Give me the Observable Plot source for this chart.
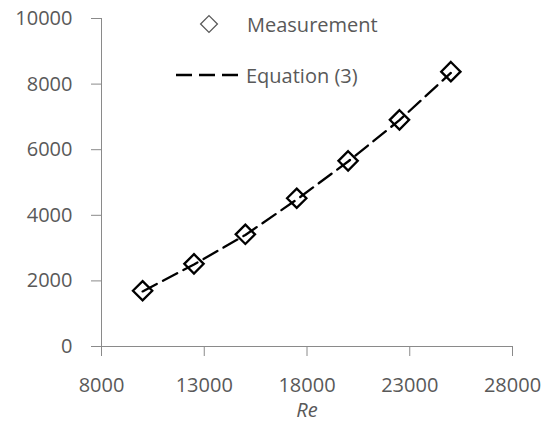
<!DOCTYPE html>
<html>
<head>
<meta charset="utf-8">
<script src="https://cdn.jsdelivr.net/npm/d3@7"></script>
<script src="https://cdn.jsdelivr.net/npm/@observablehq/plot@0.6"></script>
<style>
  body { margin: 0; background: #fff; }
  #chart svg text { fill: #595959; }
</style>
</head>
<body>
<div id="chart"></div>
<script>
// Reynolds number of each run
const re = [10000, 12500, 15000, 17500, 20000, 22500, 25000];
// measured values
const measured = [1700, 2520, 3420, 4520, 5660, 6910, 8380];
// values from Equation (3)
const equation = [1680, 2500, 3400, 4480, 5640, 6900, 8340];
// axis ticks
const xTicks = [8000, 13000, 18000, 23000, 28000];
const yTicks = [0, 2000, 4000, 6000, 8000, 10000];

const measRows = re.map((r, i) => ({re: r, v: measured[i]}));
const eqRows = re.map((r, i) => ({re: r, v: equation[i]}));

const font = "'Open Sans', sans-serif";

const chart = Plot.plot({
  width: 543,
  height: 421,
  marginLeft: 101,
  marginRight: 31,
  marginTop: 18,
  marginBottom: 75,
  style: {fontFamily: font, fontSize: "20px", color: "#8a8a8a", background: "#fff"},
  x: {domain: [8000, 28000], ticks: xTicks, tickFormat: "d", tickSize: 10, tickPadding: 21, label: null, line: true},
  y: {domain: [0, 10000], ticks: yTicks, tickFormat: "d", tickSize: 10, tickPadding: 19, label: null, line: true},
  marks: [
    Plot.line(eqRows, {x: "re", y: "v", stroke: "#000", strokeWidth: 2.3, strokeDasharray: "16,7"}),
    Plot.dot(measRows, {x: "re", y: "v", symbol: "diamond2", r: 8.7, stroke: "#000", strokeWidth: 2.3, fill: "none"}),
    Plot.text(["Re"], {text: d => d, frameAnchor: "bottom", dy: 70, fontStyle: "italic", fontSize: 20, fill: "#595959"})
  ]
});

// legend inside the plot area
const svg = d3.select(chart);
const lg = svg.append("g")
  .attr("font-family", font)
  .attr("font-size", 20)
  .attr("text-anchor", "start");
lg.append("path")
  .attr("d", d3.symbol(d3.symbolDiamond2, 180)())
  .attr("transform", "translate(209,24)")
  .attr("fill", "none")
  .attr("stroke", "#595959")
  .attr("stroke-width", 1.3);
lg.append("text").attr("x", 247).attr("y", 32).text("Measurement");
lg.append("line")
  .attr("x1", 176).attr("x2", 243).attr("y1", 75).attr("y2", 75)
  .attr("stroke", "#000").attr("stroke-width", 2.3).attr("stroke-dasharray", "16,7");
lg.append("text").attr("x", 246).attr("y", 83).text("Equation (3)");

document.getElementById("chart").append(chart);
</script>
</body>
</html>
